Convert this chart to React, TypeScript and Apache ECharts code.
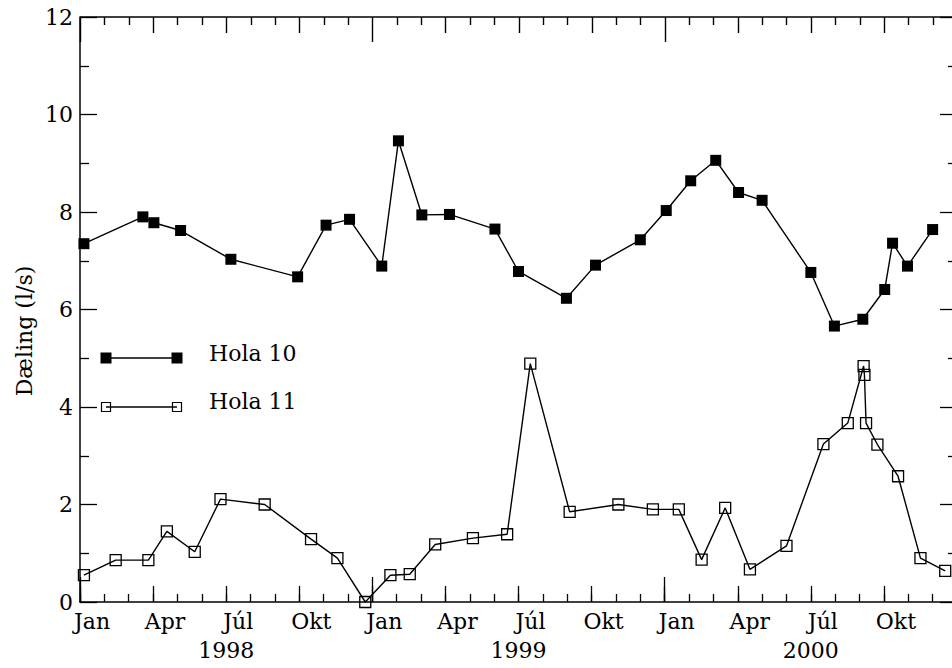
import React, { useEffect, useRef } from 'react';
import * as echarts from 'echarts';

// Sampling dates and discharge (l/s) for the two boreholes
const hola10Dates = [
  '1998-01-06', '1998-03-19', '1998-04-02', '1998-05-05', '1998-07-07', '1998-09-29',
  '1998-11-04', '1998-12-03', '1999-01-13', '1999-02-03', '1999-03-02', '1999-04-06',
  '1999-06-02', '1999-07-01', '1999-08-31', '1999-10-06', '1999-12-01', '2000-01-03',
  '2000-02-03', '2000-03-04', '2000-04-02', '2000-05-01', '2000-07-01', '2000-07-31',
  '2000-09-05', '2000-10-02', '2000-10-12', '2000-10-31', '2000-12-01',
];
const hola10Flow = [
  7.35, 7.9, 7.78, 7.62, 7.03, 6.67,
  7.73, 7.85, 6.89, 9.46, 7.94, 7.95,
  7.65, 6.78, 6.23, 6.91, 7.43, 8.03,
  8.64, 9.06, 8.4, 8.24, 6.76, 5.66,
  5.8, 6.41, 7.36, 6.89, 7.64,
];

const hola11Dates = [
  '1998-01-06', '1998-02-14', '1998-03-26', '1998-04-18', '1998-05-23', '1998-06-24',
  '1998-08-19', '1998-10-16', '1998-11-18', '1998-12-23', '1999-01-24', '1999-02-16',
  '1999-03-19', '1999-05-05', '1999-06-17', '1999-07-16', '1999-09-04', '1999-11-04',
  '1999-12-17', '2000-01-19', '2000-02-16', '2000-03-16', '2000-04-16', '2000-06-01',
  '2000-07-17', '2000-08-17', '2000-09-06', '2000-09-07', '2000-09-09', '2000-09-23',
  '2000-10-19', '2000-11-16', '2000-12-17',
];
const hola11Flow = [
  0.55, 0.86, 0.86, 1.45, 1.03, 2.11,
  2.0, 1.29, 0.9, 0.0, 0.55, 0.57,
  1.18, 1.31, 1.39, 4.89, 1.85, 2.0,
  1.9, 1.9, 0.87, 1.93, 0.67, 1.15,
  3.24, 3.67, 4.84, 4.66, 3.67, 3.23,
  2.58, 0.9, 0.64,
];

// Axis text
const quarterLabels = ['Jan', 'Apr', 'Júl', 'Okt'];
const yearLabels = ['1998', '1999', '2000'];
const yTitle = 'Dæling (l/s)';
const seriesNames = ['Hola 10', 'Hola 11'];

const START_YEAR = 1998;
const MONTHS = 36;
const Y_MAX = 12;
const FONT = 'DejaVu Serif';
const INK = '#000';

// The frame spans the full three years; the page shows it up to mid-December 2000.
const CHART_W = 960;
const VIEW_W = 952;
const VIEW_H = 668;

// Date string -> months since 1 Jan 1998 (fractional)
function toMonths(d: string): number {
  const [y, m, day] = d.split('-').map(Number);
  const daysInMonth = new Date(y, m, 0).getDate();
  return (y - START_YEAR) * 12 + (m - 1) + (day - 1) / daysInMonth;
}

const pairs = (dates: string[], vals: number[]) => dates.map((d, i) => [toMonths(d), vals[i]]);

// Tick length by month: year > quarter > month
const tickLength = (m: number) => (m % 12 === 0 ? 25 : m % 3 === 0 ? 16 : 8);

const tickStyle = { color: INK, width: 1.3 };
const frameLine = { show: true, onZero: false, lineStyle: { color: INK, width: 1.5 } };
const noLine = { show: false, onZero: false };

// One set of bottom time ticks: `step` months apart, `len` px long, pointing up
function timeTicks(step: number, len: number, withLine: boolean, label?: object) {
  return {
    type: 'value',
    min: 0,
    max: MONTHS,
    interval: step,
    position: 'bottom',
    axisLine: withLine ? frameLine : noLine,
    axisTick: len > 0 ? { show: true, inside: true, length: len, lineStyle: tickStyle } : { show: false },
    splitLine: { show: false },
    axisLabel: label ?? { show: false },
  };
}

const monthLabel = {
  show: true,
  margin: 8,
  padding: [0, 0, 0, 24],
  fontFamily: FONT,
  fontSize: 22,
  color: INK,
  formatter: (v: number) => (v < MONTHS && v % 3 === 0 ? quarterLabels[(v / 3) % 4] : ''),
};

const yearLabel = {
  show: true,
  margin: 37,
  fontFamily: FONT,
  fontSize: 22,
  color: INK,
  formatter: (v: number) => (v % 12 === 6 ? yearLabels[(v - 6) / 12] : ''),
};

function flowAxis(position: 'left' | 'right', withLabels: boolean) {
  return {
    type: 'value',
    min: 0,
    max: Y_MAX,
    interval: 2,
    position,
    axisLine: frameLine,
    axisTick: { show: true, inside: true, length: 17, lineStyle: tickStyle },
    minorTick: { show: true, splitNumber: 2, length: 9, lineStyle: tickStyle },
    splitLine: { show: false },
    minorSplitLine: { show: false },
    axisLabel: withLabels
      ? { show: true, margin: 7, fontFamily: FONT, fontSize: 22, color: INK }
      : { show: false },
  };
}

function legendGraphics() {
  const legendY = [358, 407];
  const legendX = [106, 177];
  return [
    {
      type: 'text',
      x: 24,
      y: 331,
      rotation: Math.PI / 2,
      style: { text: yTitle, fontFamily: FONT, fontSize: 22, fill: INK, align: 'center', verticalAlign: 'middle' },
    },
    // legend: Hola 10
    {
      type: 'line',
      shape: { x1: legendX[0], y1: legendY[0], x2: legendX[1], y2: legendY[0] },
      style: { stroke: INK, lineWidth: 1.3 },
    },
    ...legendX.map((x) => ({
      type: 'rect',
      shape: { x: x - 5.5, y: legendY[0] - 5.5, width: 11, height: 11 },
      style: { fill: INK },
    })),
    {
      type: 'text',
      x: 209,
      y: legendY[0] - 5,
      style: { text: seriesNames[0], fontFamily: FONT, fontSize: 22, fill: INK, verticalAlign: 'middle' },
    },
    // legend: Hola 11
    {
      type: 'line',
      shape: { x1: legendX[0], y1: legendY[1], x2: legendX[1], y2: legendY[1] },
      style: { stroke: INK, lineWidth: 1.3 },
    },
    ...legendX.map((x) => ({
      type: 'rect',
      shape: { x: x - 4.5, y: legendY[1] - 4.5, width: 9, height: 9 },
      style: { fill: 'none', stroke: INK, lineWidth: 1.2 },
    })),
    {
      type: 'text',
      x: 209,
      y: legendY[1] - 6,
      style: { text: seriesNames[1], fontFamily: FONT, fontSize: 22, fill: INK, verticalAlign: 'middle' },
    },
  ];
}

export default function App() {
  const ref = useRef<HTMLDivElement>(null);

  useEffect(() => {
    if (!ref.current) return;
    const chart = echarts.init(ref.current, undefined, { renderer: 'svg' });

    chart.setOption({
      animation: false,
      backgroundColor: '#fff',
      grid: { left: 80, right: 0, top: 17, bottom: 66 },
      xAxis: [
        timeTicks(3, 16, true, monthLabel),
        timeTicks(1, 8, false),
        timeTicks(12, 25, false),
        timeTicks(6, 0, false, yearLabel),
      ],
      yAxis: [flowAxis('left', true), flowAxis('right', false)],
      series: [
        {
          name: seriesNames[0],
          type: 'line',
          xAxisIndex: 0,
          yAxisIndex: 0,
          data: pairs(hola10Dates, hola10Flow),
          symbol: 'rect',
          symbolSize: 11,
          itemStyle: { color: INK },
          lineStyle: { color: INK, width: 1.4 },
          z: 3,
        },
        {
          name: seriesNames[1],
          type: 'line',
          xAxisIndex: 0,
          yAxisIndex: 0,
          data: pairs(hola11Dates, hola11Flow),
          symbol: 'rect',
          symbolSize: 11,
          itemStyle: { color: 'rgba(0,0,0,0)', borderColor: INK, borderWidth: 1.3 },
          lineStyle: { color: INK, width: 1.4 },
          z: 3,
        },
      ],
    });

    // Top frame: line and month ticks hanging into the plot, placed through the axis scale
    const left = chart.convertToPixel({ xAxisIndex: 0, yAxisIndex: 0 }, [0, Y_MAX]) as number[];
    const right = chart.convertToPixel({ xAxisIndex: 0, yAxisIndex: 0 }, [MONTHS, Y_MAX]) as number[];
    const topY = Math.round(left[1]);
    const topTicks: any[] = [];
    for (let m = 0; m <= MONTHS; m++) {
      const p = chart.convertToPixel({ xAxisIndex: 0, yAxisIndex: 0 }, [m, Y_MAX]) as number[];
      const x = Math.round(p[0]) + 0.5;
      topTicks.push({
        type: 'line',
        z: 100,
        shape: { x1: x, y1: topY, x2: x, y2: topY + tickLength(m) },
        style: { stroke: INK, lineWidth: 1.4 },
      });
    }
    topTicks.push({
      type: 'line',
      z: 100,
      shape: { x1: left[0], y1: topY, x2: right[0], y2: topY },
      style: { stroke: INK, lineWidth: 1.5 },
    });

    chart.setOption({ graphic: [...legendGraphics(), ...topTicks] });

    return () => chart.dispose();
  }, []);

  return (
    <div
      style={{
        position: 'fixed',
        left: 0,
        top: 0,
        width: VIEW_W,
        height: VIEW_H,
        overflow: 'hidden',
        background: '#fff',
      }}
    >
      <div ref={ref} style={{ width: CHART_W, height: VIEW_H }} />
    </div>
  );
}
